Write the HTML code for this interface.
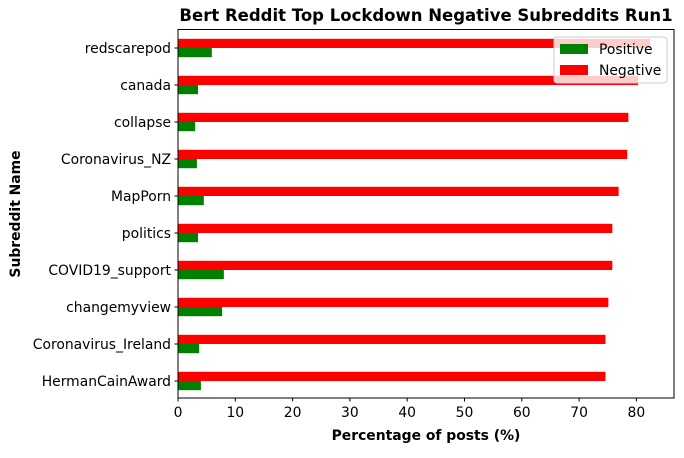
<!DOCTYPE html>
<html><head><meta charset="utf-8"><style>
body{margin:0;background:#fff;}
svg text{font-family:"DejaVu Sans","Liberation Sans",sans-serif;}
</style></head><body>
<svg id="chart" width="684" height="453" xmlns="http://www.w3.org/2000/svg">
<text x="426" y="21" text-anchor="middle" font-size="16.5" font-weight="bold">Bert Reddit Top Lockdown Negative Subreddits Run1</text>
<g id="bars"></g>
<g id="axes"></g>
<text x="426" y="440" text-anchor="middle" font-size="13.9" font-weight="bold">Percentage of posts (%)</text>
<text transform="translate(20,214) rotate(-90)" text-anchor="middle" font-size="13.9" font-weight="bold">Subreddit Name</text>
<rect x="178" y="29.5" width="496" height="368.5" fill="none" stroke="#000" stroke-width="1"/>
<g>
<rect x="554" y="37" width="113" height="46" rx="3" fill="#fff" fill-opacity="0.8" stroke="#ccc"/>
<rect x="560" y="44" width="28" height="10" fill="#008000"/>
<text x="599" y="54" font-size="13.9">Positive</text>
<rect x="560" y="65" width="28" height="10" fill="#ff0000"/>
<text x="599" y="75" font-size="13.9">Negative</text>
</g>
</svg>
<script>
const categories=["redscarepod","canada","collapse","Coronavirus_NZ","MapPorn","politics","COVID19_support","changemyview","Coronavirus_Ireland","HermanCainAward"];
const negative=[82.4,80.3,78.6,78.4,76.9,75.8,75.8,75.1,74.6,74.6];
const positive=[5.9,3.5,3.0,3.3,4.5,3.5,8.0,7.7,3.7,4.0];
const xTicks=[0,10,20,30,40,50,60,70,80];
const NS="http://www.w3.org/2000/svg";
const x0=178, pxPer=(636.4-178)/80;
const xs=v=>x0+v*pxPer;
const ys=i=>48+i*37;
const bars=document.getElementById('bars'), axes=document.getElementById('axes');
function mk(t,a,p){const e=document.createElementNS(NS,t);for(const k in a)e.setAttribute(k,a[k]);p.appendChild(e);return e;}
categories.forEach((c,i)=>{
  const n=mk('rect',{x:x0,y:ys(i)-9.2,width:xs(negative[i])-x0,height:9.2,fill:'#ff0000'},bars);
  
  
  const p=mk('rect',{x:x0,y:ys(i),width:xs(positive[i])-x0,height:9.2,fill:'#008000'},bars);
  
  
  mk('line',{x1:174.5,x2:178,y1:ys(i),y2:ys(i),stroke:'#000'},axes);
  const t=mk('text',{x:171,y:ys(i)+5,'text-anchor':'end','font-size':'13.9'},axes);
  t.textContent=c;
  
  
});
xTicks.forEach(v=>{
  mk('line',{x1:xs(v),x2:xs(v),y1:398,y2:401.5,stroke:'#000'},axes);
  const t=mk('text',{x:xs(v),y:417,'text-anchor':'middle','font-size':'13.9'},axes);
  t.textContent=v;
  
  
});
</script>
</body></html>
